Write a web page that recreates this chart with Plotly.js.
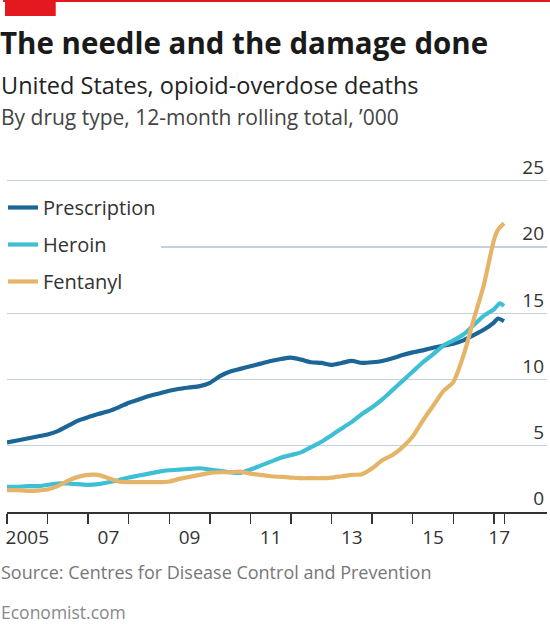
<!DOCTYPE html>
<html>
<head>
<meta charset="utf-8">
<script src="https://cdn.plot.ly/plotly-3.0.1.min.js"></script>
<style>
html,body{margin:0;padding:0;background:#fff;}
#chart{width:550px;height:631px;}
</style>
</head>
<body>
<div id="chart"></div>
<script>
// ---- Data (12-month rolling total, '000) ----
const prescriptionYears = [2005.0,2005.25,2005.5,2005.75,2006.0,2006.25,2006.5,2006.75,2007.0,2007.25,2007.5,2007.75,2008.0,2008.25,2008.5,2008.75,2009.0,2009.25,2009.5,2009.75,2010.0,2010.25,2010.5,2010.75,2011.0,2011.25,2011.5,2011.75,2012.0,2012.25,2012.5,2012.75,2013.0,2013.25,2013.5,2013.75,2014.0,2014.25,2014.5,2014.75,2015.0,2015.25,2015.5,2015.75,2016.0,2016.25,2016.5,2016.75,2017.0,2017.1,2017.25];
const prescription = [5.25,5.4,5.55,5.7,5.85,6.1,6.5,6.9,7.15,7.4,7.6,7.9,8.25,8.5,8.75,8.95,9.15,9.3,9.4,9.5,9.75,10.25,10.6,10.8,11.0,11.2,11.4,11.55,11.65,11.5,11.3,11.25,11.1,11.25,11.4,11.25,11.3,11.4,11.6,11.85,12.05,12.2,12.4,12.55,12.7,12.95,13.35,13.75,14.3,14.6,14.4];

const heroinYears = [2005.0,2005.25,2005.5,2005.75,2006.0,2006.25,2006.5,2006.75,2007.0,2007.25,2007.5,2007.75,2008.0,2008.25,2008.5,2008.75,2009.0,2009.25,2009.5,2009.75,2010.0,2010.25,2010.5,2010.75,2011.0,2011.25,2011.5,2011.75,2012.0,2012.25,2012.5,2012.75,2013.0,2013.25,2013.5,2013.75,2014.0,2014.25,2014.5,2014.75,2015.0,2015.25,2015.5,2015.75,2016.0,2016.25,2016.5,2016.75,2017.0,2017.15,2017.25];
const heroin = [1.9,1.9,1.95,1.95,2.05,2.15,2.15,2.1,2.05,2.1,2.25,2.4,2.6,2.75,2.9,3.05,3.15,3.2,3.25,3.3,3.2,3.1,3.0,2.95,3.2,3.5,3.8,4.1,4.3,4.5,4.9,5.3,5.8,6.3,6.8,7.4,7.9,8.5,9.2,9.9,10.6,11.3,11.9,12.55,12.95,13.4,14.1,14.8,15.3,15.75,15.55];

const fentanylYears = [2005.0,2005.25,2005.5,2005.75,2006.0,2006.25,2006.5,2006.75,2007.0,2007.25,2007.5,2007.75,2008.0,2008.25,2008.5,2008.75,2009.0,2009.25,2009.5,2009.75,2010.0,2010.25,2010.5,2010.75,2011.0,2011.25,2011.5,2011.75,2012.0,2012.25,2012.5,2012.75,2013.0,2013.25,2013.5,2013.75,2014.0,2014.25,2014.5,2014.75,2015.0,2015.25,2015.5,2015.75,2016.0,2016.25,2016.5,2016.75,2017.0,2017.1,2017.25];
const fentanyl = [1.65,1.65,1.6,1.62,1.7,1.95,2.35,2.65,2.8,2.8,2.55,2.3,2.25,2.25,2.25,2.25,2.3,2.5,2.65,2.8,2.95,3.0,3.0,3.05,2.9,2.8,2.7,2.65,2.6,2.55,2.55,2.55,2.6,2.7,2.8,2.85,3.3,3.9,4.3,4.9,5.7,6.9,8.0,9.1,9.8,11.8,14.5,17.1,20.5,21.3,21.8];

// ---- Axis ticks ----
const yearTicks = [2005,2006,2007,2008,2009,2010,2011,2012,2013,2014,2015,2016,2017,2017.26];
const labelPositions = [2005.5,2007.5,2009.5,2011.5,2013.5,2015.5,2017.13];
const labelTexts = ['2005','07','09','11','13','15','17'];
const yTicks = [0,5,10,15,20,25];

const FONT = 'Open Sans, Noto Sans, sans-serif';
const XRANGE = [2005, 2018.31];

const traces = [
  {x: prescriptionYears, y: prescription, name: 'Prescription', legendgroup:'a', mode:'lines',
   line:{color:'#1c6597', width:4.2, shape:'spline', smoothing:0.6}},
  {x: heroinYears, y: heroin, name: 'Heroin', legendgroup:'b', mode:'lines',
   line:{color:'#3fbfd3', width:4.2, shape:'spline', smoothing:0.6}},
  {x: fentanylYears, y: fentanyl, name: 'Fentanyl', legendgroup:'c', mode:'lines', xaxis:'x2',
   line:{color:'#e5b469', width:4.2, shape:'spline', smoothing:0.6}}
];

const TOP = 141, BOTTOM = 512;
const ppx = BOTTOM - TOP;
function py(px){ return (BOTTOM - px)/ppx; }
function pxx(px){ return (px - 4)/543; }

const layout = {
  width: 550, height: 631,
  margin: {l:4, r:3, t:TOP, b:631-BOTTOM, pad:0},
  paper_bgcolor:'#ffffff', plot_bgcolor:'#ffffff',
  font: {family: FONT, color:'#333333'},
  showlegend: true,
  legend: {
    x: pxx(0), xanchor:'left', y: py(188), yanchor:'top',
    bgcolor:'#ffffff', borderwidth:0,
    font:{family:FONT, size:20, color:'#333333'},
    tracegroupgap: 8, traceorder:'grouped',
    entrywidth: 135, entrywidthmode:'pixels'
  },
  title: {
    text: '<b>The needle and the damage done</b>',
    font:{family:FONT, size:29.5, color:'#1a1a1a'},
    x: 0, xanchor:'left', xref:'container', pad:{l:0,r:0,t:0,b:0},
    y: 0.947, yref:'container', yanchor:'top'
  },
  xaxis: {
    range: XRANGE, fixedrange:true,
    showgrid:false, zeroline:false,
    showline:true, linecolor:'#333333', linewidth:1.5,
    tickmode:'array', tickvals: yearTicks, ticktext: yearTicks.map(()=> ''),
    ticks:'outside', ticklen:10, tickwidth:1.5, tickcolor:'#333333'
  },
  xaxis2: {
    overlaying:'x', anchor:'y', side:'bottom',
    range: XRANGE, fixedrange:true,
    showgrid:false, zeroline:false, showline:false,
    tickmode:'array', tickvals: labelPositions, ticktext: labelTexts,
    ticks:'', ticklabelstandoff: 12,
    tickfont:{family:FONT, size:19, color:'#333333'}
  },
  yaxis: {
    range:[0,28], fixedrange:true, side:'right',
    tickmode:'array', tickvals: yTicks,
    ticklabelposition:'inside top',
    showgrid:true, gridcolor:'#c3d1da', gridwidth:1.4,
    zeroline:false, showline:false, ticks:'',
    tickfont:{family:FONT, size:19, color:'#333333'}
  },
  shapes: [
    {type:'rect', xref:'paper', yref:'paper', x0:pxx(0), x1:pxx(550), y0:py(0), y1:py(2), fillcolor:'#e3191f', line:{width:0}},
    {type:'rect', xref:'paper', yref:'paper', x0:pxx(2), x1:pxx(53), y0:py(0), y1:py(16), fillcolor:'#e3191f', line:{width:0}}
  ],
  annotations: [
    {text:'United States, opioid-overdose deaths', xref:'paper', yref:'paper', x:pxx(-4), y:py(67), xanchor:'left', yanchor:'top', showarrow:false,
     font:{family:FONT, size:23.5, color:'#222222'}},
    {text:'By drug type, 12-month rolling total, ’000', xref:'paper', yref:'paper', x:pxx(-4), y:py(101), xanchor:'left', yanchor:'top', showarrow:false,
     font:{family:FONT, size:21, color:'#444444'}},
    {text:'Source: Centres for Disease Control and Prevention', xref:'paper', yref:'paper', x:pxx(-4), y:py(558), xanchor:'left', yanchor:'top', showarrow:false,
     font:{family:FONT, size:18, color:'#777777'}},
    {text:'Economist.com', xref:'paper', yref:'paper', x:pxx(-4), y:py(598), xanchor:'left', yanchor:'top', showarrow:false,
     font:{family:FONT, size:17.5, color:'#888888'}}
  ]
};

Plotly.newPlot('chart', traces, layout, {displayModeBar:false, staticPlot:true});
</script>
</body>
</html>
